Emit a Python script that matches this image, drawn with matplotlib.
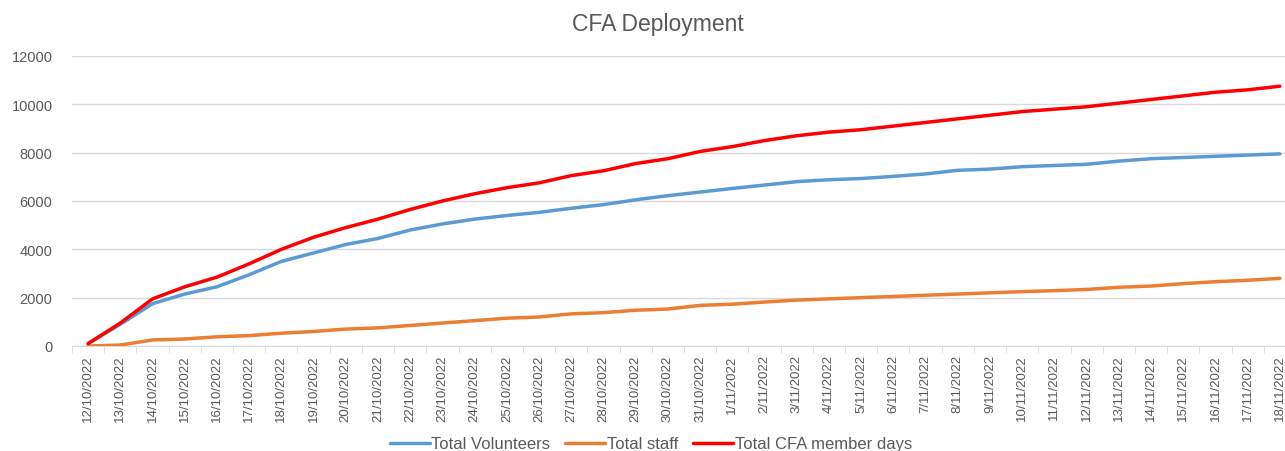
import matplotlib
matplotlib.use('Agg')
from matplotlib import pyplot as plt

dates = ['12/10/2022', '13/10/2022', '14/10/2022', '15/10/2022', '16/10/2022', '17/10/2022',
         '18/10/2022', '19/10/2022', '20/10/2022', '21/10/2022', '22/10/2022', '23/10/2022',
         '24/10/2022', '25/10/2022', '26/10/2022', '27/10/2022', '28/10/2022', '29/10/2022',
         '30/10/2022', '31/10/2022', '1/11/2022', '2/11/2022', '3/11/2022', '4/11/2022',
         '5/11/2022', '6/11/2022', '7/11/2022', '8/11/2022', '9/11/2022', '10/11/2022',
         '11/11/2022', '12/11/2022', '13/11/2022', '14/11/2022', '15/11/2022', '16/11/2022',
         '17/11/2022', '18/11/2022']

volunteers = [100, 900, 1750, 2150, 2450, 2950, 3500, 3850, 4200, 4450, 4800, 5050,
              5250, 5400, 5530, 5700, 5850, 6050, 6220, 6370, 6520, 6660, 6800, 6880,
              6930, 7020, 7120, 7270, 7320, 7420, 7470, 7520, 7650, 7750, 7800, 7850,
              7900, 7950]

staff = [0, 40, 250, 290, 380, 430, 530, 600, 700, 750, 850, 950,
         1050, 1150, 1200, 1330, 1380, 1480, 1530, 1680, 1730, 1820, 1900, 1950,
         2000, 2050, 2100, 2150, 2200, 2250, 2290, 2340, 2430, 2480, 2580, 2660,
         2720, 2800]

member_days = [100, 950, 1950, 2450, 2850, 3400, 4000, 4500, 4900, 5250, 5650, 6000,
               6300, 6550, 6750, 7050, 7250, 7550, 7750, 8050, 8250, 8500, 8700, 8850,
               8950, 9100, 9250, 9400, 9550, 9700, 9800, 9900, 10050, 10200, 10350, 10500,
               10600, 10750]

plt.rcParams['font.family'] = ['Liberation Sans', 'DejaVu Sans']
TXT = '#595959'
GRID = '#d9d9d9'

fig = plt.figure(figsize=(12.85, 4.52), dpi=100)
ax = fig.add_axes([72 / 1285, 1 - 347 / 452, 1224 / 1285, 290 / 452])

x = list(range(len(dates)))
ax.plot(x, volunteers, color='#5b9bd5', lw=2.5, label='Total Volunteers', solid_capstyle='round')
ax.plot(x, staff, color='#ed7d31', lw=2.5, label='Total staff', solid_capstyle='round')
ax.plot(x, member_days, color='#ff0000', lw=2.5, label='Total CFA member days', solid_capstyle='round')

ax.set_xlim(-0.5, len(dates) - 0.5)
ax.set_ylim(0, 12000)
ax.set_yticks(range(0, 12001, 2000))
ax.yaxis.grid(True, color=GRID, lw=1)
ax.set_axisbelow(True)
for s in ['left', 'right', 'top']:
    ax.spines[s].set_visible(False)
ax.spines['bottom'].set_color(GRID)
ax.tick_params(axis='y', length=0, labelsize=10.5, labelcolor=TXT, pad=14)

ax.set_xticks(x)
ax.set_xticklabels(dates, rotation=90, fontsize=9.5, color=TXT)
ax.tick_params(axis='x', length=0, pad=6)
ax.set_xticks([i - 0.5 for i in range(len(dates) + 1)], minor=True)
ax.tick_params(axis='x', which='minor', length=5, color=GRID)

fig.text(658 / 1285, 1 - 25 / 452, 'CFA Deployment', ha='center', va='center', fontsize=16.5, color=TXT)

fig.legend(loc='center', bbox_to_anchor=(651 / 1285, 1 - 445 / 452), ncol=3, frameon=False,
           fontsize=12, labelcolor=TXT, handlelength=2.4, columnspacing=0.9, handletextpad=0.1)

fig.savefig('out.png', dpi=100)
